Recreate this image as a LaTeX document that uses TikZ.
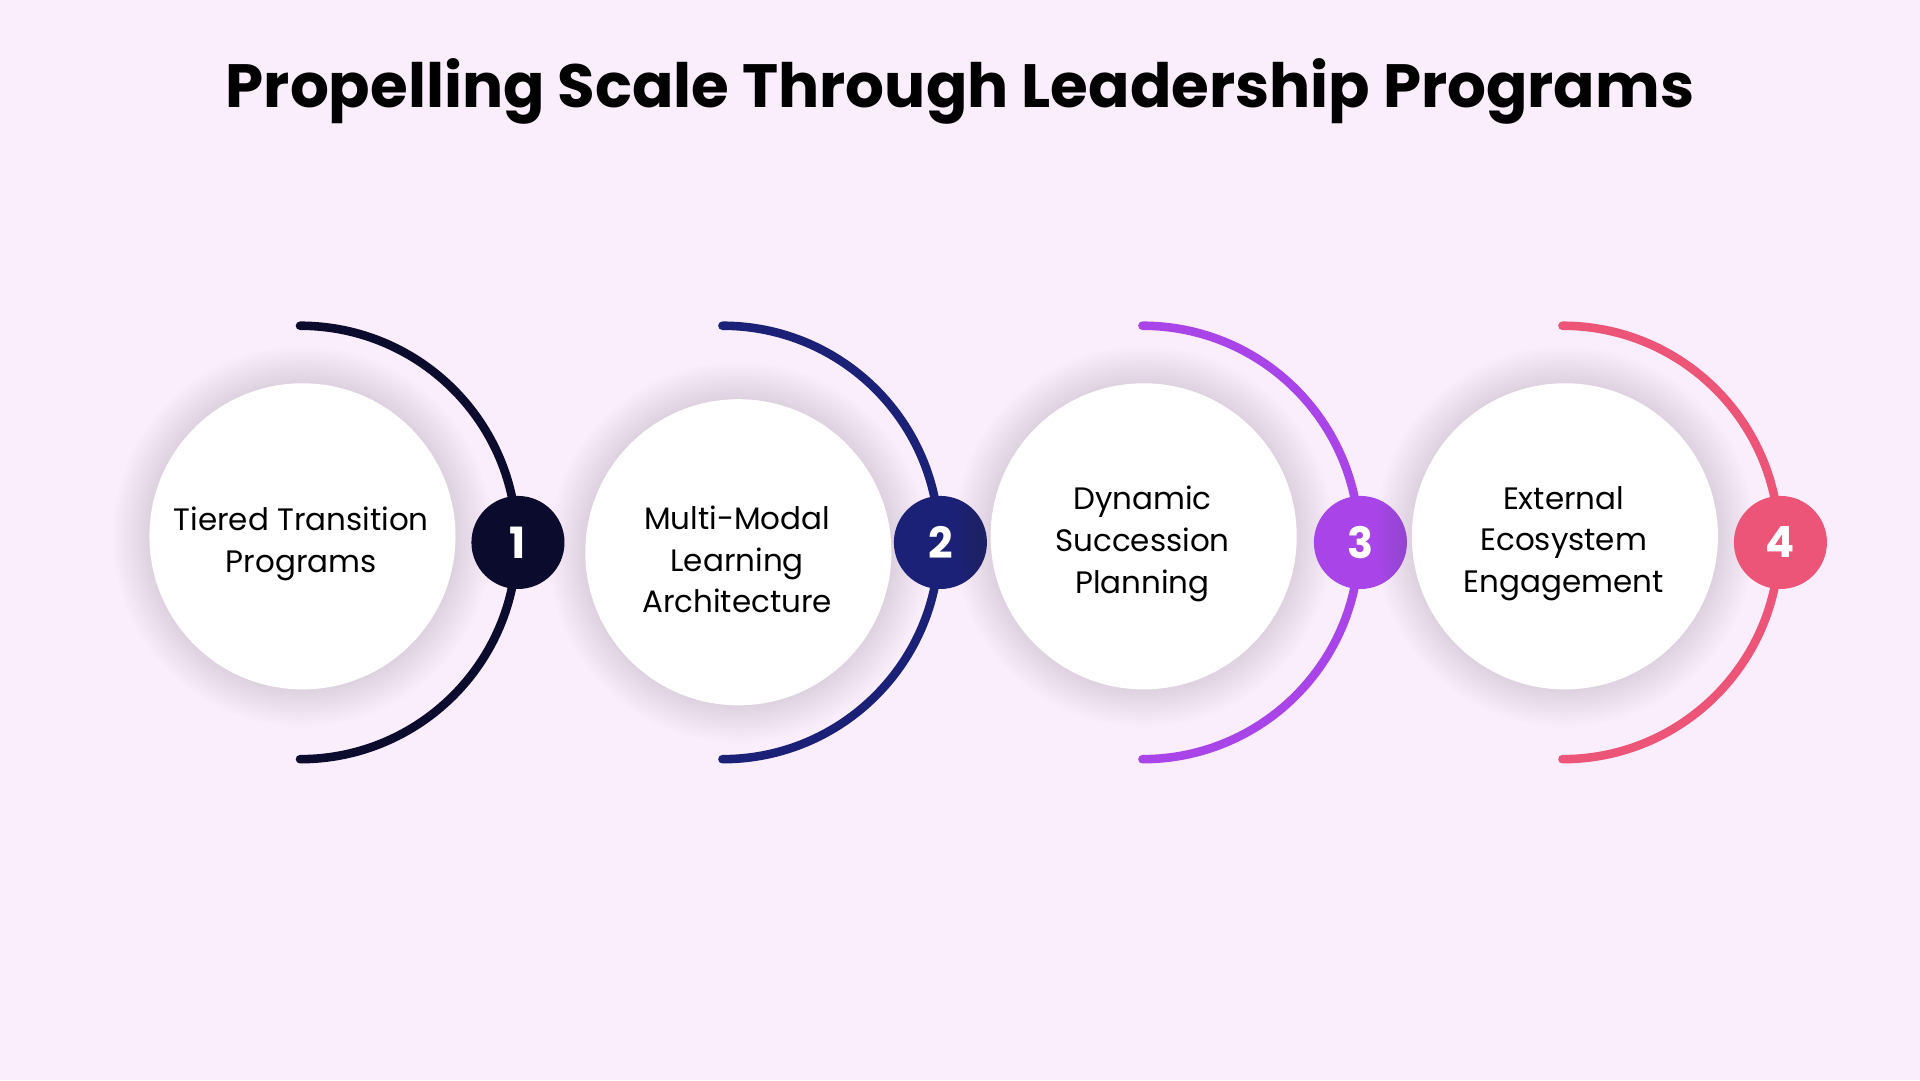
\documentclass[tikz,border=0pt]{standalone}
\usepackage{fontspec}
\setmainfont{Poppins}
\definecolor{bg}{HTML}{FBEEFC}
\definecolor{cA}{HTML}{0B0B2E}
\definecolor{cB}{HTML}{1C2178}
\definecolor{cC}{HTML}{A945E8}
\definecolor{cD}{HTML}{EC5578}
\begin{document}
\begin{tikzpicture}[x=0.1mm,y=-0.1mm,
  lbl/.style={font=\fontsize{7.2}{9.7}\selectfont,align=center,text=black},
  num/.style={circle,minimum size=76*0.1mm,inner sep=0,text=white,font=\fontsize{10}{12}\selectfont\bfseries},
  arcline/.style={line width=7*0.1mm,line cap=round}]
\fill[bg] (0,0) rectangle (1568,882);
\useasboundingbox (0,0) rectangle (1568,882);
\node[font=\fontsize{14.2}{17}\selectfont\bfseries] (title) at (784,75) {Propelling Scale Through Leadership Programs};
\foreach \cx/\cy/\ax/\col/\n/\t [count=\i] in {
 247/438/245/cA/1/{Tiered Transition\\Programs},
 603/451/590/cB/2/{Multi-Modal\\Learning\\Architecture},
 934/438/933/cC/3/{Dynamic\\Succession\\Planning},
 1278/438/1276/cD/4/{External\\Ecosystem\\Engagement}}{
  \foreach \k in {1,...,28}{\fill[black!60,opacity=0.004] (\cx,\cy) circle ({125+\k*1.1});}
  \draw[arcline,\col] (\ax,266) arc[start angle=-90,end angle=90,radius=177];
  \node[circle,fill=white,minimum size=250*0.1mm,inner sep=0] (c\i) at (\cx,\cy) {};
  \node[lbl] (t\i) at (\cx-1,\cy+6) {\t};
  \node[num,fill=\col] (n\i) at (\ax+178,443) {\n};
}
\end{tikzpicture}
\end{document}
